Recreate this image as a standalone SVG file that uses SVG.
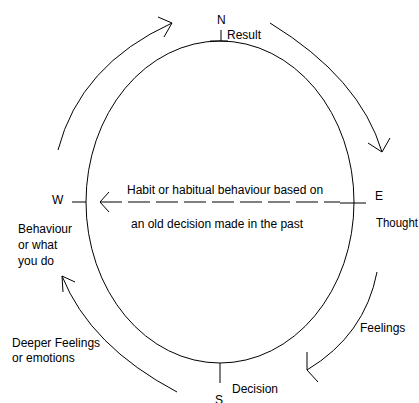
<svg xmlns="http://www.w3.org/2000/svg" width="419" height="403" viewBox="0 0 419 403">
<style>
text{font-family:"Liberation Sans",Arial,sans-serif;font-size:12px;fill:#000}
.ln{fill:none;stroke:#000;stroke-width:1}
</style>
<rect width="419" height="403" fill="#fff"/>
<g id="cycle">
<ellipse class="ln" cx="220" cy="202" rx="134" ry="161"/>
</g>
<g id="north">
<line class="ln" x1="221" y1="30" x2="221" y2="41"/>
<line class="ln" x1="210" y1="41" x2="228" y2="41"/>
<text x="217" y="24">N</text>
<text x="227" y="39">Result</text>
</g>
<g id="east">
<line class="ln" x1="340" y1="203" x2="366" y2="203"/>
<text x="375" y="200">E</text>
<text x="376" y="227" textLength="42" lengthAdjust="spacingAndGlyphs">Thought</text>
</g>
<g id="south">
<line class="ln" x1="220" y1="363" x2="220" y2="383"/>
<text x="232" y="393">Decision</text>
<text x="215" y="404">S</text>
</g>
<g id="west">
<line class="ln" x1="72" y1="202" x2="86" y2="202"/>
<text x="52" y="204">W</text>
<text x="18" y="233">Behaviour</text>
<text x="18" y="249">or what</text>
<text x="18" y="265">you do</text>
</g>
<g id="habit">
<text x="127" y="194">Habit or habitual behaviour based on</text>
<text x="131" y="228">an old decision made in the past</text>
</g>
<g id="labels">
<text x="360" y="332">Feelings</text>
<text x="12" y="347">Deeper Feelings</text>
<text x="12" y="362">or emotions</text>
</g>
<g id="connectors">
<line class="ln" x1="100" y1="202" x2="340" y2="202" stroke-dasharray="22,6"/>
<polyline class="ln" points="109,192 100,202 109,212"/>
<path class="ln" d="M58,150 Q80,65 172,23"/>
<polyline class="ln" points="158,17 172,23 164,37"/>
<path class="ln" d="M270,23 Q360,78 382,152"/>
<polyline class="ln" points="368,143 382,152 390,138"/>
<path class="ln" d="M377,272 Q365,335 307,370"/>
<polyline class="ln" points="307,352 307,370 318,382"/>
<path class="ln" d="M177,392 Q90,346 62,276"/>
<polyline class="ln" points="75,282 62,276 63,292"/>
</g>
</svg>
